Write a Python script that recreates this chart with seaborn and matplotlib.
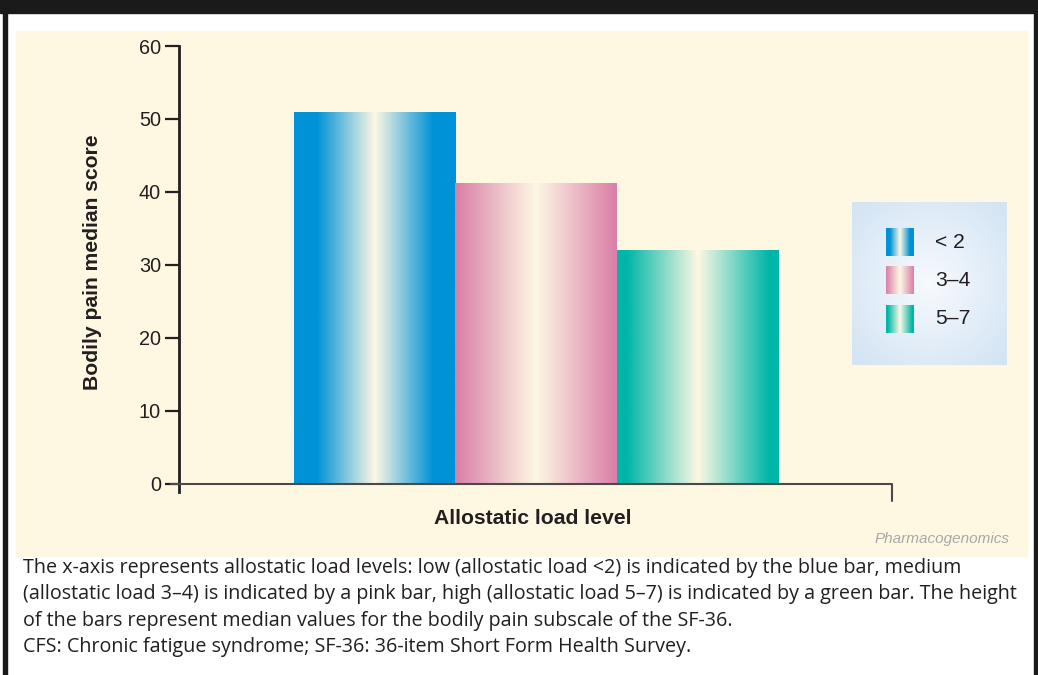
import numpy as np
import matplotlib.pyplot as plt
import matplotlib.patches as mpatches
from matplotlib.colors import LinearSegmentedColormap, to_rgb
import seaborn as sns

# data
levels = ['< 2', '3–4', '5–7']
median_scores = [51, 41.3, 32]
edge_colors = ['#0092d6', '#db80a8', '#00b6a8']
yticks = [0, 10, 20, 30, 40, 50, 60]

caption = [
    'The x-axis represents allostatic load levels: low (allostatic load <2) is indicated by the blue bar, medium',
    '(allostatic load 3–4) is indicated by a pink bar, high (allostatic load 5–7) is indicated by a green bar. The height',
    'of the bars represent median values for the bodily pain subscale of the SF-36.',
    'CFS: Chronic fatigue syndrome; SF-36: 36-item Short Form Health Survey.',
]

sns.set_style('white')
plt.rcParams['font.family'] = ['Liberation Sans', 'DejaVu Sans']

W, H = 1038, 675
fig = plt.figure(figsize=(W / 100, H / 100), dpi=100)
fig.patch.set_facecolor('white')


def fx(px):
    return px / W


def fy(py):
    return 1 - py / H


def frame(x0, y0, x1, y1, color):
    fig.patches.append(mpatches.Rectangle((fx(x0), fy(y1)), fx(x1) - fx(x0), (y1 - y0) / H,
                                          transform=fig.transFigure, color=color, zorder=-5))


# page frame
frame(0, 0, W, 13, '#1a1a1a')
frame(3, 0, 7, H, '#1a1a1a')
frame(1034, 0, W, H, '#1a1a1a')
frame(16, 31, 1027, 556, '#fef7e1')

cream = '#fdf8e4'


def bar_cmap(c, flat):
    return LinearSegmentedColormap.from_list(
        'g', [(0, c), (flat, c), (0.5, cream), (1 - flat, c), (1, c)])


flats = [0.14, 0.01, 0.06]
cmaps = [bar_cmap(c, f) for c, f in zip(edge_colors, flats)]
grad = np.linspace(0, 1, 256).reshape(1, -1)

# main axes
ax = fig.add_axes([fx(179), fy(492), fx(892) - fx(179), (492 - 46) / H])
ax.set_facecolor('none')
sns.barplot(x=levels, y=median_scores, hue=levels, palette=edge_colors, width=1,
            saturation=1, legend=False, ax=ax)

xlim = (-1.213, 3.207)
ylim = (-1.1, 60)
bars = sorted(ax.patches, key=lambda p: p.get_x())
for p, cm in zip(bars, cmaps):
    x0, w, h = p.get_x(), p.get_width(), p.get_height()
    p.set_facecolor('none')
    p.set_edgecolor('none')
    im = ax.imshow(grad, extent=[x0, x0 + w, 0, h], aspect='auto', cmap=cm, zorder=2)
    im.set_clip_path(p)
ax.set_xlim(*xlim)
ax.set_ylim(*ylim)

for s in ['top', 'right', 'bottom']:
    ax.spines[s].set_visible(False)
ax.spines['left'].set_color('#231f20')
ax.spines['left'].set_linewidth(2)
ax.set_xticks([])
ax.set_yticks(yticks)
ax.tick_params(axis='y', length=10, width=1.6, color='#231f20', labelsize=14.3,
               labelcolor='#231f20', pad=3, left=True)
ax.set_xlabel('')
ax.set_ylabel('')

# x baseline with the right end drop
ax.plot([xlim[0] - 0.05, xlim[1], xlim[1]], [0, 0, -2.3], color='#4a4a4a', lw=1.5,
        clip_on=False, zorder=3)

fig.text(fx(533), fy(519), 'Allostatic load level', ha='center', va='center',
         fontsize=15.2, fontweight='bold', color='#231f20')
fig.text(fx(93), fy(262), 'Bodily pain median score', ha='center', va='center',
         rotation=90, fontsize=15.2, fontweight='bold', color='#231f20')
fig.text(fx(1010), fy(539), 'Pharmacogenomics', ha='right', va='center',
         fontsize=11, style='italic', color='#a8a8a8')

# legend box with a soft radial fill
lax = fig.add_axes([fx(852), fy(365), fx(1007) - fx(852), (365 - 202) / H])
yy, xx = np.mgrid[-1:1:200j, -1:1:200j]
r = np.clip(np.sqrt(xx ** 2 + yy ** 2) / 1.35, 0, 1)[..., None]
c_in, c_out = np.array(to_rgb('#f7fafe')), np.array(to_rgb('#d3e4f4'))
lax.imshow(c_in * (1 - r) + c_out * r, extent=[0, 155, 163, 0], aspect='auto')
for i, (lab, cm) in enumerate(zip(levels, cmaps)):
    top = 26 + i * 38.5
    lax.imshow(grad, extent=[34, 62, top + 28, top], aspect='auto', cmap=cm)
    lax.text(83, top + 14, lab, va='center', ha='left', fontsize=15.2, color='#231f20')
lax.set_xlim(0, 155)
lax.set_ylim(163, 0)
lax.axis('off')

# caption under the panel
for i, line in enumerate(caption):
    fig.text(fx(23), fy(568 + i * 26.3), line, ha='left', va='center', fontsize=14.2,
             color='#231f20', family=['Open Sans', 'DejaVu Sans'])

fig.savefig('out.png', dpi=100)
